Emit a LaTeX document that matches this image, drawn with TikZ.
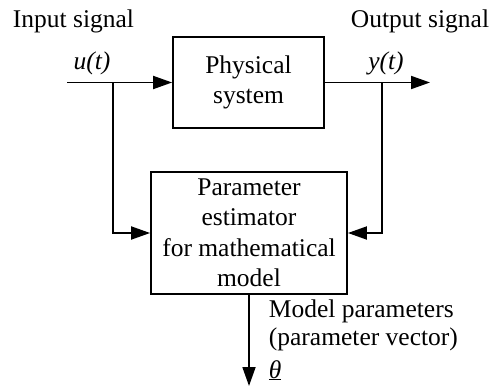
\documentclass[tikz,border=0pt]{standalone}
\usepackage{fontspec}
\setmainfont{Liberation Serif}
\usetikzlibrary{arrows.meta}
\begin{document}
\begin{tikzpicture}[x=1pt,y=-1pt,
  line width=1.8pt,
  every node/.style={font=\fontsize{25.5}{30}\selectfont},
  blockbox/.style={draw,rectangle,inner sep=0pt,align=center},
  sig/.style={-{Triangle[length=19pt,width=13pt]}},
  lbl/.style={inner sep=0pt}]
\useasboundingbox (0,0) rectangle (494,387);
\node[blockbox,minimum width=151pt,minimum height=91pt] (phys) at (248.5,82.5) {Physical\\system};
\node[blockbox,minimum width=196pt,minimum height=122pt,font=\fontsize{25.5}{30.5}\selectfont] (est) at (249,233) {Parameter\\estimator\\for mathematical\\model};
\coordinate (in) at (67,82.5);
\coordinate (uj) at (113,82.5);
\coordinate (yj) at (382,82.5);
\coordinate (out) at (430,82.5);
\coordinate (th) at (249,386);
\draw[sig] (in) -- (phys.west);
\draw[sig] (phys.east) -- (out);
\draw[sig] (uj) |- (est.west);
\draw[sig] (yj) |- (est.east);
\draw[sig] (est.south) -- (th);
\node[lbl,anchor=base west] (insig) at (12,28) {Input signal};
\node[lbl,anchor=base east] (outsig) at (490,28) {Output signal};
\node[lbl,anchor=base] (ut) at (92,70) {\textit{u(t)}};
\node[lbl,anchor=base] (yt) at (386,70) {\textit{y(t)}};
\node[lbl,anchor=base west,align=left,font=\fontsize{25.5}{28}\selectfont] (mp) at (268,345) {Model parameters\\(parameter vector)};
\node[lbl,anchor=base west] (theta) at (268,378) {\underline{\textit{θ}}};
\end{tikzpicture}
\end{document}
